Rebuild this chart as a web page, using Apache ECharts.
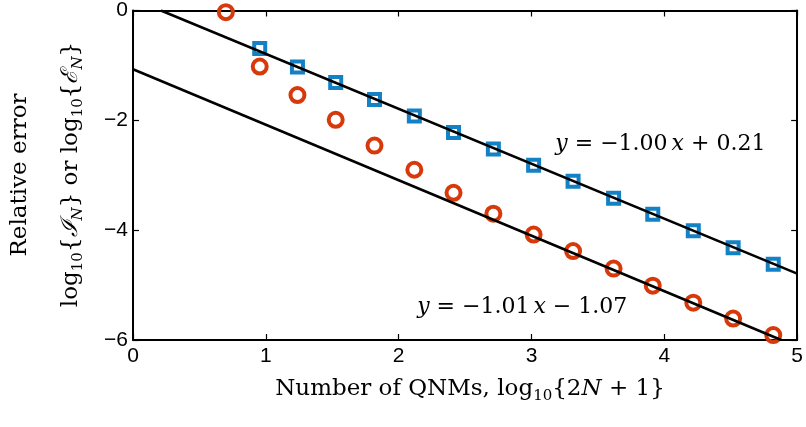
<!DOCTYPE html>
<html><head><meta charset="utf-8">
<script src="https://cdn.jsdelivr.net/npm/echarts@6/dist/echarts.min.js"></script>
<style>html,body{margin:0;padding:0;background:#fff}#c{width:806px;height:427px}</style>
</head><body><div id="c"></div>
<script>
// ---- data ----
const xTickValues = [0, 1, 2, 3, 4, 5];
const yTickValues = [-6, -4, -2, 0];
const squareX = [0.954, 1.238, 1.526, 1.818, 2.118, 2.413, 2.713, 3.016, 3.313, 3.618, 3.913, 4.218, 4.518, 4.820];
const squareY = [-0.69, -1.03, -1.31, -1.62, -1.92, -2.22, -2.52, -2.82, -3.11, -3.42, -3.71, -4.01, -4.32, -4.62];
const circleX = [0.699, 0.954, 1.238, 1.526, 1.818, 2.118, 2.413, 2.713, 3.016, 3.313, 3.618, 3.913, 4.218, 4.518, 4.820];
const circleY = [-0.03, -1.02, -1.54, -1.99, -2.46, -2.90, -3.32, -3.70, -4.08, -4.38, -4.70, -5.01, -5.32, -5.61, -5.91];
const fitUpperX = [0.21, 5.0];
const fitUpperY = [0.0, -4.79];
const fitLowerX = [0.0, 4.88];
const fitLowerY = [-1.07, -6.0];
const annotText = ['{i|y}{o|=}{n|−1.00}{x|x}{o|+}{n|0.21}', '{i|y}{o|=}{n|−1.01}{x|x}{o|−}{n|1.07}'];
const annotX = [3.97, 2.93];
const annotY = [-2.44, -5.40];

// ---- style ----
const serif = 'DejaVu Serif';
const sans = '"Liberation Sans", Arial, sans-serif';
const red = '#D8390B';
const blue = '#1581C5';
const fs = 23;

const chart = echarts.init(document.getElementById('c'), null, {renderer: 'canvas'});

function mkAxis(pos, min, max, interval, showLabel) {
  return {
    type: 'value', position: pos, min: min, max: max, interval: interval,
    axisLine: {show: true, onZero: false, lineStyle: {color: '#000', width: 2}},
    axisTick: {show: true, inside: true, length: 6, lineStyle: {color: '#000', width: 1.2}},
    axisLabel: {show: showLabel, color: '#000', fontSize: 21, fontFamily: sans, margin: pos === 'left' ? 5 : 6,
      formatter: v => String(v).replace('-', '\u2212')},
    splitLine: {show: false}
  };
}

const eqRich = {
  i: {fontFamily: serif, fontStyle: 'italic', fontSize: 22, color: '#000'},
  x: {fontFamily: serif, fontStyle: 'italic', fontSize: 22, color: '#000', padding: [0, 0, 0, 4]},
  o: {fontFamily: serif, fontSize: 22, color: '#000', padding: [0, 7, 0, 7]},
  n: {fontFamily: serif, fontSize: 22, color: '#000'}
};

const titleRich = {
  t: {fontFamily: serif, fontSize: fs, color: '#000', lineHeight: 30, verticalAlign: 'middle'},
  i: {fontFamily: serif, fontStyle: 'italic', fontSize: fs, color: '#000', lineHeight: 30, verticalAlign: 'middle'},
  c: {fontFamily: serif, fontStyle: 'italic', fontSize: fs, color: '#000', lineHeight: 30, verticalAlign: 'middle'},
  s: {fontFamily: serif, fontSize: 15, color: '#000', lineHeight: 15, verticalAlign: 'bottom'},
  sn: {fontFamily: serif, fontStyle: 'italic', fontSize: 15, color: '#000', lineHeight: 15, verticalAlign: 'bottom'}
};

const option = {
  animation: false,
  backgroundColor: '#fff',
  grid: {left: 133, right: 6, top: 7, bottom: 87, containLabel: false},
  xAxis: [mkAxis('bottom', 0, 5, 1, true), mkAxis('top', 0, 5, 1, false)],
  yAxis: [mkAxis('left', -6, 0, 2, true), mkAxis('right', -6, 0, 2, false)],
  series: [
    {type: 'scatter', name: 'circles', z: 2, symbol: 'circle', symbolSize: 14,
      itemStyle: {color: 'rgba(255,255,255,0)', borderColor: red, borderWidth: 4, opacity: 1},
      data: circleX.map((x, i) => [x, circleY[i]])},
    {type: 'scatter', name: 'squares', z: 2, symbol: 'rect', symbolSize: 11,
      itemStyle: {color: 'rgba(255,255,255,0)', borderColor: blue, borderWidth: 4, opacity: 1},
      data: squareX.map((x, i) => [x, squareY[i]])},
    {type: 'line', name: 'fitUpper', z: 3, symbol: 'none', silent: true,
      lineStyle: {color: '#000', width: 2.5},
      data: fitUpperX.map((x, i) => [x, fitUpperY[i]])},
    {type: 'line', name: 'fitLower', z: 3, symbol: 'none', silent: true,
      lineStyle: {color: '#000', width: 2.5},
      data: fitLowerX.map((x, i) => [x, fitLowerY[i]])},
    {type: 'scatter', name: 'annotations', z: 4, symbolSize: 0, silent: true,
      itemStyle: {opacity: 1},
      label: {show: true, position: 'inside', color: '#000', textBorderWidth: 0,
        formatter: p => annotText[p.dataIndex], rich: eqRich},
      data: annotX.map((x, i) => [x, annotY[i]])}
  ],
  graphic: [
    {type: 'text', x: 470, y: 389, z: 10,
      style: {text: '{t|Number of QNMs, log}{s|10}{t|{2}{i|N}{t| + 1}}', align: 'center', verticalAlign: 'middle',
        fontFamily: serif, fontSize: fs, fill: '#000', rich: titleRich}},
    {type: 'text', x: 20, y: 175, rotation: Math.PI / 2, z: 10,
      style: {text: '{t|Relative error}', align: 'center', verticalAlign: 'middle',
        fontFamily: serif, fontSize: fs, fill: '#000', rich: titleRich}},
    {type: 'text', x: 71, y: 174.5, rotation: Math.PI / 2, z: 10,
      style: {text: '{t|log}{s|10}{t|{}{c|\u2110}{sn|N}}{t| or log}{s|10}{t|{}{c|\u2130}{sn|N}}', align: 'center', verticalAlign: 'middle',
        fontFamily: serif, fontSize: fs, fill: '#000', rich: titleRich}}
  ]
};
chart.setOption(option);
</script>
</body></html>
